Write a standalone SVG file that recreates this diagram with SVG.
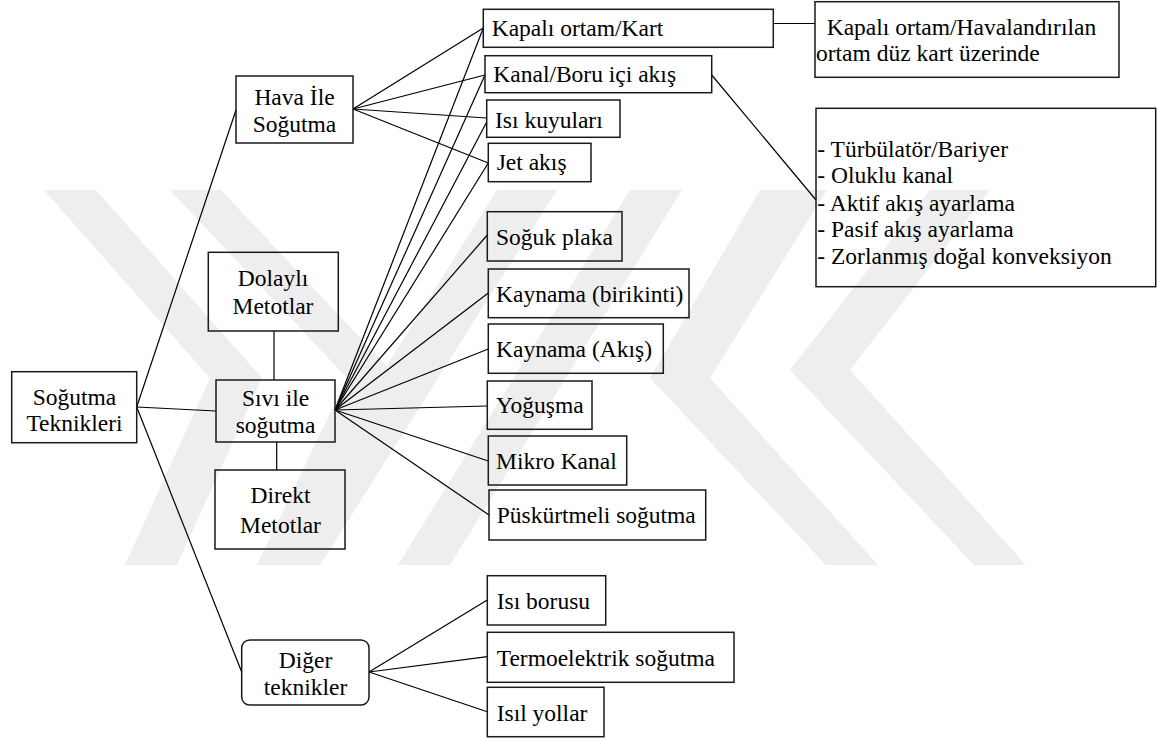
<svg xmlns="http://www.w3.org/2000/svg" width="1157" height="740" viewBox="0 0 1157 740">
<defs>
<style>
.bg{fill:#ffffff}
.wm{fill:#eeeeee}
.box{fill:none;stroke:#1a1a1a;stroke-width:1.5}
.ln{fill:none;stroke:#000;stroke-width:1.2}
.c{text-anchor:middle}
.t{font-family:"Times New Roman", Tinos, "Liberation Serif", "Noto Serif", "Nimbus Roman", FreeSerif, Times, "DejaVu Serif", serif;font-size:23.5px;fill:#000}
</style>
</defs>
<rect class="bg" x="0" y="0" width="1157" height="740"/>
<g id="watermark">
<polygon class="wm" points="44,190 96,190 262,378 177,565 125,565 210,378"/>
<polygon class="wm" points="170,190 221,190 398,378 310,565 257,565 347,378"/>
<polygon class="wm" points="497,190 557,190 320,565 262,565"/>
<polygon class="wm" points="630,190 682,190 450,565 398,565"/>
<polygon class="wm" points="760,190 827,190 710,378 878,565 826,565 650,378"/>
<polygon class="wm" points="930,190 990,190 850,370 1026,565 974,565 790,370"/>
</g>
<g id="connectors">
<line class="ln" x1="136.7" y1="407" x2="236" y2="110"/>
<line class="ln" x1="136.7" y1="407" x2="216" y2="411"/>
<line class="ln" x1="136.7" y1="407" x2="241.7" y2="672"/>
<line class="ln" x1="353" y1="109" x2="483.3" y2="28"/>
<line class="ln" x1="353" y1="109" x2="485" y2="75"/>
<line class="ln" x1="353" y1="109" x2="486.7" y2="118"/>
<line class="ln" x1="353" y1="109" x2="488.3" y2="163"/>
<line class="ln" x1="335" y1="410" x2="483.3" y2="28"/>
<line class="ln" x1="335" y1="410" x2="485" y2="75"/>
<line class="ln" x1="335" y1="410" x2="486.7" y2="122"/>
<line class="ln" x1="335" y1="410" x2="488.3" y2="163"/>
<line class="ln" x1="335" y1="410" x2="487.3" y2="235"/>
<line class="ln" x1="335" y1="410" x2="488.3" y2="293"/>
<line class="ln" x1="335" y1="410" x2="488.3" y2="349"/>
<line class="ln" x1="335" y1="410" x2="487.3" y2="406"/>
<line class="ln" x1="335" y1="410" x2="488.3" y2="461"/>
<line class="ln" x1="335" y1="410" x2="489" y2="515"/>
<line class="ln" x1="274" y1="331" x2="274" y2="380"/>
<line class="ln" x1="276.7" y1="442" x2="276.7" y2="470"/>
<line class="ln" x1="773.3" y1="23.5" x2="815" y2="23.5"/>
<line class="ln" x1="711.7" y1="75" x2="816" y2="200"/>
<line class="ln" x1="369" y1="672" x2="487.3" y2="600"/>
<line class="ln" x1="369" y1="672" x2="487.3" y2="656.7"/>
<line class="ln" x1="369" y1="672" x2="487.3" y2="711.7"/>
</g>
<g id="n-root"><rect class="box" x="11.7" y="371.7" width="125" height="71"/><text class="t c" x="74.5" y="404.5">Soğutma</text><text class="t c" x="74.5" y="431">Teknikleri</text></g>
<g id="n-hava"><rect class="box" x="236" y="76" width="117" height="67"/><text class="t c" x="294.5" y="104.5">Hava İle</text><text class="t c" x="294.5" y="132">Soğutma</text></g>
<g id="n-dolayli"><rect class="box" x="208.3" y="252.3" width="130" height="78.7"/><text class="t c" x="273" y="285.7">Dolaylı</text><text class="t c" x="273" y="314">Metotlar</text></g>
<g id="n-sivi"><rect class="box" x="216" y="380" width="119" height="62"/><text class="t c" x="275.5" y="405.7">Sıvı ile</text><text class="t c" x="275.5" y="432.7">soğutma</text></g>
<g id="n-direkt"><rect class="box" x="215" y="470" width="130" height="79"/><text class="t c" x="280.5" y="503.3">Direkt</text><text class="t c" x="280.5" y="532.7">Metotlar</text></g>
<g id="n-diger"><rect class="box" x="241.7" y="640" width="127.3" height="65" rx="8" ry="8"/><text class="t c" x="305.5" y="667.7">Diğer</text><text class="t c" x="305.5" y="695">teknikler</text></g>
<g id="n-kapali"><rect class="box" x="483.3" y="9.3" width="290" height="38"/><text class="t" x="491.7" y="36">Kapalı ortam/Kart</text></g>
<g id="n-kanal"><rect class="box" x="485" y="55.7" width="226.7" height="37"/><text class="t" x="493.3" y="81.7">Kanal/Boru içi akış</text></g>
<g id="n-isikuyu"><rect class="box" x="486.7" y="100" width="133.3" height="37.3"/><text class="t" x="495" y="127.7">Isı kuyuları</text></g>
<g id="n-jet"><rect class="box" x="488.3" y="143.3" width="102.7" height="38.4"/><text class="t" x="496.7" y="170">Jet akış</text></g>
<g id="n-soguk"><rect class="box" x="487.3" y="211.7" width="134.7" height="49.3"/><text class="t" x="496" y="245">Soğuk plaka</text></g>
<g id="n-kaynama1"><rect class="box" x="488.3" y="269" width="200.7" height="48.7"/><text class="t" x="496" y="301.7">Kaynama (birikinti)</text></g>
<g id="n-kaynama2"><rect class="box" x="488.3" y="324" width="175" height="49.3"/><text class="t" x="496" y="356.7">Kaynama (Akış)</text></g>
<g id="n-yogusma"><rect class="box" x="487.3" y="381" width="104.7" height="48.3"/><text class="t" x="496" y="413.3">Yoğuşma</text></g>
<g id="n-mikro"><rect class="box" x="488.3" y="436" width="138.4" height="49"/><text class="t" x="496" y="469.3">Mikro Kanal</text></g>
<g id="n-puskurtme"><rect class="box" x="489" y="490" width="216.7" height="50"/><text class="t" x="496.7" y="523.3">Püskürtmeli soğutma</text></g>
<g id="n-isiboru"><rect class="box" x="487.3" y="575.7" width="118.4" height="49.3"/><text class="t" x="496.7" y="609">Isı borusu</text></g>
<g id="n-termo"><rect class="box" x="487.3" y="632.3" width="246.7" height="50"/><text class="t" x="496.7" y="665.7">Termoelektrik soğutma</text></g>
<g id="n-isil"><rect class="box" x="487.3" y="687.3" width="116.7" height="49.4"/><text class="t" x="496.7" y="721">Isıl yollar</text></g>
<g id="n-havalandirma"><rect class="box" x="815" y="1.7" width="304" height="75.6"/><text class="t" x="826.7" y="35">Kapalı ortam/Havalandırılan</text><text class="t" x="816" y="61">ortam düz kart üzerinde</text></g>
<g id="n-liste"><rect class="box" x="816" y="108.3" width="339.7" height="178.4"/><text class="t" x="817.3" y="156.7">- Türbülatör/Bariyer</text><text class="t" x="817.3" y="183.3">- Oluklu kanal</text><text class="t" x="817.3" y="210.7">- Aktif akış ayarlama</text><text class="t" x="817.3" y="237.3">- Pasif akış ayarlama</text><text class="t" x="817.3" y="264">- Zorlanmış doğal konveksiyon</text></g>
</svg>
